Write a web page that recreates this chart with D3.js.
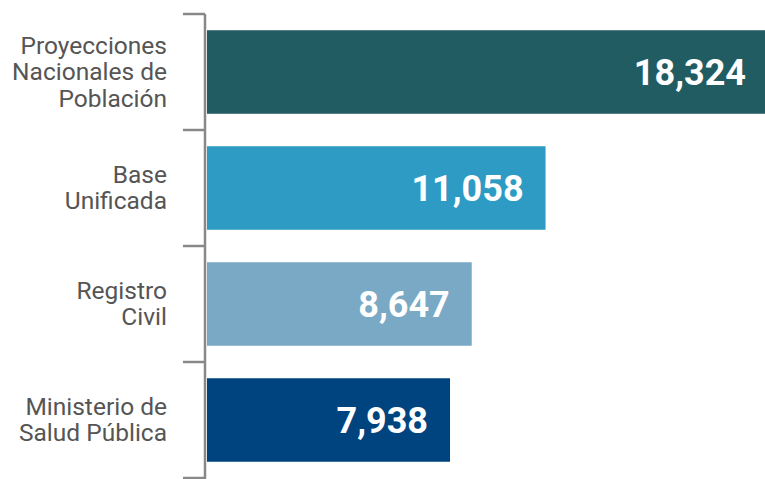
<!DOCTYPE html>
<html>
<head>
<meta charset="utf-8">
<script src="https://cdn.jsdelivr.net/npm/d3@7"></script>
<style>
    body { margin: 0; background: #fff; }
</style>
</head>
<body>
<div id="chart"></div>
<script>
const categories = [
    ['Proyecciones', 'Nacionales de', 'Población'],
    ['Base', 'Unificada'],
    ['Registro', 'Civil'],
    ['Ministerio de', 'Salud Pública']
];
const values = [18324, 11058, 8647, 7938];
const barColors = ['#225c63', '#2e9bc4', '#7aa9c5', '#00447f'];

const svgWidth = 765;
const svgHeight = 479;

const svg = d3.select('#chart')
    .append('svg')
    .attr('width', svgWidth)
    .attr('height', svgHeight);

const axisX = 205;
// longest bar runs slightly past the right edge
const x = d3.scaleLinear().domain([0, 18324]).range([axisX + 2, 768]);
const y = d3.scaleBand()
    .domain(d3.range(values.length))
    .range([14, 478])
    .paddingInner(0.28)
    .paddingOuter(0.14);

const rows = values.map((v, i) => ({i, v, label: categories[i], color: barColors[i]}));

// bars
svg.selectAll('rect.bar')
    .data(rows)
    .join('rect')
    .attr('class', 'bar')
    .attr('x', x(0))
    .attr('y', d => y(d.i))
    .attr('width', d => x(d.v) - x(0))
    .attr('height', y.bandwidth())
    .attr('fill', d => d.color);

// value labels
svg.selectAll('text.value')
    .data(rows)
    .join('text')
    .attr('class', 'value')
    .attr('x', d => x(d.v) - 22)
    .attr('y', d => y(d.i) + y.bandwidth() / 2 + 13)
    .attr('text-anchor', 'end')
    .style('font-family', 'Roboto, sans-serif')
    .style('font-weight', 'bold')
    .style('font-size', '36px')
    .style('fill', 'white')
    .text(d => d3.format(',')(d.v));

// axis with ticks at band boundaries
const step = y.step();
const bounds = d3.range(values.length + 1).map(k => 14 + k * step);

svg.append('line')
    .attr('x1', axisX).attr('x2', axisX)
    .attr('y1', 14).attr('y2', svgHeight)
    .attr('stroke', '#888')
    .attr('stroke-width', 2.5);

svg.selectAll('line.tick')
    .data(bounds)
    .join('line')
    .attr('class', 'tick')
    .attr('x1', 183).attr('x2', axisX)
    .attr('y1', d => d).attr('y2', d => d)
    .attr('stroke', '#888')
    .attr('stroke-width', 2.5);

// category labels
const lineH = 26.5;
svg.selectAll('text.cat')
    .data(rows)
    .join('text')
    .attr('class', 'cat')
    .attr('text-anchor', 'end')
    .style('font-family', 'Roboto, sans-serif')
    .style('font-size', '24.5px')
    .style('fill', '#555')
    .each(function (d) {
        const n = d.label.length;
        const cy = y(d.i) + y.bandwidth() / 2;
        d3.select(this).selectAll('tspan')
            .data(d.label)
            .join('tspan')
            .attr('x', 167)
            .attr('y', (t, j) => cy + (j - (n - 1) / 2) * lineH + 8)
            .text(t => t);
    });
</script>
</body>
</html>
